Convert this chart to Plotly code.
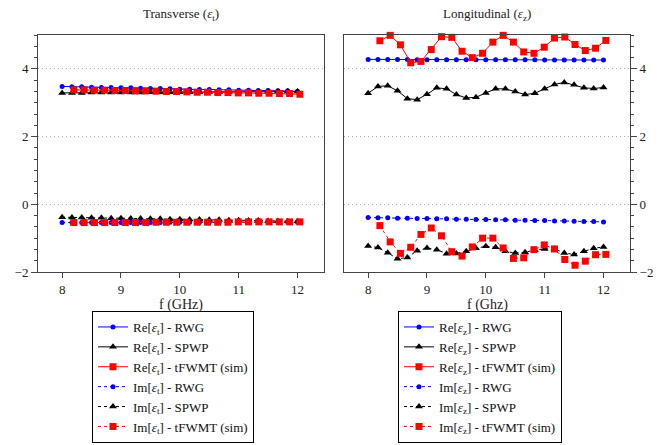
import plotly.graph_objects as go

# ---------------- data ----------------
f_model = [8.0, 8.167, 8.333, 8.5, 8.667, 8.833, 9.0, 9.167, 9.333, 9.5, 9.667, 9.833,
           10.0, 10.167, 10.333, 10.5, 10.667, 10.833, 11.0, 11.167, 11.333, 11.5, 11.667, 11.833, 12.0]
f_sim = [8.2, 8.375, 8.549, 8.724, 8.898, 9.073, 9.247, 9.422, 9.596, 9.771, 9.945, 10.12,
         10.295, 10.469, 10.644, 10.818, 10.993, 11.167, 11.342, 11.516, 11.691, 11.865, 12.04]

# Transverse
re_t_rwg = [3.48, 3.47, 3.47, 3.46, 3.45, 3.45, 3.44, 3.44, 3.43, 3.42, 3.42, 3.41, 3.40,
            3.40, 3.39, 3.39, 3.38, 3.38, 3.37, 3.37, 3.36, 3.36, 3.35, 3.35, 3.34]
re_t_spwp = [3.29, 3.29, 3.29, 3.30, 3.30, 3.30, 3.30, 3.30, 3.30, 3.31, 3.31, 3.31, 3.31,
             3.31, 3.31, 3.32, 3.32, 3.32, 3.32, 3.32, 3.32, 3.33, 3.33, 3.33, 3.33]
re_t_sim = [3.38, 3.38, 3.37, 3.37, 3.36, 3.36, 3.35, 3.35, 3.34, 3.33, 3.33, 3.32,
            3.31, 3.31, 3.30, 3.30, 3.29, 3.29, 3.28, 3.28, 3.27, 3.27, 3.25]
im_t_rwg = [-0.54, -0.54, -0.54, -0.54, -0.54, -0.54, -0.54, -0.54, -0.54, -0.54, -0.54, -0.53,
            -0.53, -0.53, -0.53, -0.53, -0.53, -0.53, -0.53, -0.53, -0.53, -0.53, -0.53, -0.53, -0.53]
im_t_spwp = [-0.38, -0.39, -0.39, -0.40, -0.40, -0.41, -0.41, -0.42, -0.42, -0.43, -0.43, -0.44,
             -0.44, -0.45, -0.45, -0.46, -0.46, -0.47, -0.47, -0.48, -0.48, -0.49, -0.49, -0.50, -0.50]
im_t_sim = [-0.54, -0.54, -0.54, -0.54, -0.54, -0.54, -0.54, -0.54, -0.53, -0.53, -0.53, -0.53,
            -0.53, -0.53, -0.53, -0.53, -0.52, -0.52, -0.52, -0.52, -0.52, -0.52, -0.52]

# Longitudinal
re_z_rwg = [4.28, 4.28, 4.28, 4.28, 4.28, 4.27, 4.27, 4.27, 4.27, 4.27, 4.27, 4.27, 4.27,
            4.27, 4.27, 4.27, 4.27, 4.27, 4.26, 4.26, 4.26, 4.26, 4.26, 4.26, 4.26]
re_z_spwp = [3.28, 3.48, 3.50, 3.35, 3.12, 3.09, 3.25, 3.44, 3.41, 3.24, 3.14, 3.16, 3.29,
             3.41, 3.41, 3.33, 3.24, 3.28, 3.41, 3.54, 3.60, 3.53, 3.44, 3.42, 3.45]
re_z_sim = [4.83, 4.99, 4.71, 4.18, 4.22, 4.57, 4.95, 4.93, 4.52, 4.33, 4.46, 4.79,
            4.99, 4.79, 4.50, 4.46, 4.64, 4.91, 4.94, 4.72, 4.54, 4.61, 4.84]
im_z_rwg = [-0.39, -0.40, -0.40, -0.41, -0.41, -0.42, -0.42, -0.43, -0.43, -0.44, -0.44, -0.45,
            -0.45, -0.46, -0.46, -0.47, -0.47, -0.48, -0.48, -0.49, -0.49, -0.50, -0.51, -0.51, -0.52]
im_z_spwp = [-1.23, -1.28, -1.43, -1.61, -1.57, -1.37, -1.29, -1.34, -1.46, -1.45, -1.39, -1.30,
             -1.24, -1.27, -1.39, -1.44, -1.42, -1.35, -1.32, -1.31, -1.44, -1.48, -1.39, -1.30, -1.26]
im_z_sim = [-0.63, -1.11, -1.45, -1.27, -0.89, -0.70, -0.93, -1.40, -1.53, -1.26, -1.00, -1.00,
            -1.29, -1.60, -1.58, -1.34, -1.20, -1.32, -1.63, -1.80, -1.68, -1.49, -1.48]

panel_titles = ["Transverse (<i>ε</i><sub>t</sub>)", "Longitudinal (<i>ε</i><sub>z</sub>)"]
x_titles = ["f (GHz)", "f (Ghz)"]
x_ticks = [8, 9, 10, 11, 12]
y_ticks = [-2, 0, 2, 4]

SERIF = "Liberation Serif"
BLUE, BLACK, RED = "#0000ff", "#000000", "#ff0000"

fig = go.Figure()

def add(x, y, name, color, symbol, msize, dash, xa, ya, leg):
    fig.add_trace(go.Scatter(
        x=x, y=y, name=name, mode="lines+markers",
        line=dict(color=color, width=1, dash=dash),
        marker=dict(color=color, symbol=symbol, size=msize, line=dict(width=0)),
        xaxis=xa, yaxis=ya, legend=leg, cliponaxis=False))

DASH = "3px,3px"
for (sub, xa, ya, leg, data) in [
    ("t", "x", "y", "legend",
     (re_t_rwg, re_t_spwp, re_t_sim, im_t_rwg, im_t_spwp, im_t_sim)),
    ("z", "x2", "y2", "legend2",
     (re_z_rwg, re_z_spwp, re_z_sim, im_z_rwg, im_z_spwp, im_z_sim)),
]:
    e = f"<i>ε</i><sub>{sub}</sub>"
    rr, rs, rm, ir, is_, im = data
    add(f_model, rr, f"Re[{e}] - RWG", BLUE, "circle", 5, "solid", xa, ya, leg)
    add(f_model, rs, f"Re[{e}] - SPWP", BLACK, "triangle-up", 7, "solid", xa, ya, leg)
    add(f_sim, rm, f"Re[{e}] - tFWMT (sim)", RED, "square", 7, "solid", xa, ya, leg)
    add(f_model, ir, f"Im[{e}] - RWG", BLUE, "circle", 5, DASH, xa, ya, leg)
    add(f_model, is_, f"Im[{e}] - SPWP", BLACK, "triangle-up", 7, DASH, xa, ya, leg)
    add(f_sim, im, f"Im[{e}] - tFWMT (sim)", RED, "square", 7, DASH, xa, ya, leg)

W, H = 659, 445
ydom = [1 - 272 / H, 1 - 35 / H]
xdom1 = [38 / W, 324 / W]
xdom2 = [344 / W, 630 / W]

axis_common = dict(showline=True, linecolor="#444", linewidth=1, mirror=True,
                   zeroline=False, automargin=False,
                   tickfont=dict(family=SERIF, size=13, color="#222"))
xcommon = dict(axis_common, range=[7.59, 12.45], tickvals=x_ticks, ticks="outside",
               ticklen=5, tickcolor="#444", showgrid=False)
ycommon = dict(axis_common, range=[-2, 5], tickvals=y_ticks, ticks="outside", ticklen=6,
               tickcolor="#444", showgrid=True, gridcolor="#b0b0b0", griddash="1px,3px",
               gridwidth=1,
               minor=dict(dtick=1 / 3, tick0=0, ticks="outside", ticklen=3,
                          tickcolor="#444", showgrid=False))

legend_common = dict(bordercolor="black", borderwidth=1, bgcolor="white",
                     font=dict(family=SERIF, size=13, color="#111"),
                     xanchor="left", yanchor="bottom", itemwidth=30,
                     tracegroupgap=0, traceorder="normal")

fig.update_layout(
    width=W, height=H, margin=dict(l=0, r=0, t=0, b=0, autoexpand=False),
    paper_bgcolor="white", plot_bgcolor="white",
    font=dict(family=SERIF, color="#222"),
    xaxis=dict(xcommon, domain=xdom1, anchor="y"),
    yaxis=dict(ycommon, domain=ydom, anchor="x", side="left"),
    xaxis2=dict(xcommon, domain=xdom2, anchor="y2"),
    yaxis2=dict(ycommon, domain=ydom, anchor="x2", side="right"),
    legend=dict(legend_common, x=92 / W, y=2 / H),
    legend2=dict(legend_common, x=398 / W, y=2 / H),
    showlegend=True,
)

for i, (xd, t, xt) in enumerate([(xdom1, panel_titles[0], x_titles[0]),
                                   (xdom2, panel_titles[1], x_titles[1])]):
    cx = (xd[0] + xd[1]) / 2
    fig.add_annotation(text=t, x=cx, y=1 - 15 / H, xref="paper", yref="paper",
                       showarrow=False, xanchor="center", yanchor="middle",
                       font=dict(family=SERIF, size=13, color="#222"))
    fig.add_annotation(text=xt, x=cx, y=1 - 305 / H, xref="paper", yref="paper",
                       showarrow=False, xanchor="center", yanchor="middle",
                       font=dict(family=SERIF, size=14, color="#222"))

fig.write_html("out.html")
